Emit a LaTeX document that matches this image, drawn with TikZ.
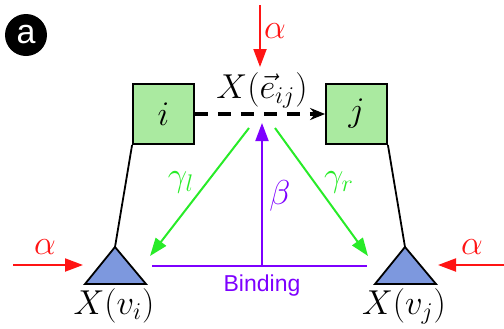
\documentclass[tikz,border=0pt]{standalone}
\usepackage{fontspec}
\usepackage{amsmath}
\newfontfamily\labfont{Liberation Sans}
\usetikzlibrary{arrows.meta}
\definecolor{boxgreen}{RGB}{170,234,160}
\definecolor{arrgreen}{RGB}{40,235,40}
\definecolor{purp}{RGB}{125,0,255}
\definecolor{trifill}{RGB}{125,152,222}
\definecolor{myred}{RGB}{255,20,20}
\tikzset{
  sq/.style={draw=black, line width=0.9pt, fill=boxgreen, minimum width=30.5pt, minimum height=30pt, inner sep=0pt, font=\fontsize{17.5}{20}\selectfont},
  lbl/.style={inner sep=0pt, font=\fontsize{17.5}{20}\selectfont},
  tipa/.style={-{Triangle[length=9pt,width=6.5pt]}},
  redarr/.style={draw=myred, line width=1pt, tipa},
  grnarr/.style={draw=arrgreen, line width=1pt, tipa},
  purarr/.style={draw=purp, line width=1pt, tipa},
  tri/.style={draw=black, line width=0.9pt, fill=trifill, line join=miter},
}
\begin{document}
\begin{tikzpicture}[x=0.5pt,y=-0.5pt]
\useasboundingbox (0,0) rectangle (504,328);
% panel label
\node[circle, fill=black, minimum size=21pt, inner sep=0pt, text=white, font=\labfont\fontsize{17}{18}\selectfont] (lab) at (26,35) {a};
% boxes
\node[sq] (i) at (163.5,114) {$i$};
\node[sq] (j) at (356.5,114) {$j$};
% edge label
\node[lbl] (eij) at (262,90) {$X(\vec{e}_{ij})$};
% top alpha
\coordinate (ta) at (260,5);
\coordinate (tb) at (260,67);
\draw[redarr] (ta) -- (tb);
\node[lbl, text=myred] (atop) at (275,31) {$\alpha$};
% dashed arrow
\draw[line width=1.6pt, dash pattern=on 6.5pt off 5pt, -{Stealth[length=7.5pt,width=6pt]}] (i.east) -- (j.west);
% triangles
\coordinate (vi) at (115,247);
\coordinate (vj) at (405,247);
\draw[tri] (vi) -- (146,284) -- (85,284) -- cycle;
\draw[tri] (vj) -- (436,284) -- (375,284) -- cycle;
% lines from boxes to triangles
\draw[line width=0.9pt] (i.south west) -- (vi);
\draw[line width=0.9pt] (j.south east) -- (vj);
% binding
\coordinate (bl) at (152,266);
\coordinate (br) at (367,266);
\coordinate (bm) at (262,266);
\coordinate (bt) at (262,123);
\draw[draw=purp, line width=1pt] (bl) -- (br);
\draw[purarr] (bm) -- (bt);
\node[inner sep=0pt, text=purp, font=\labfont\fontsize{11.5}{13}\selectfont] (bind) at (262,286) {Binding};
\node[lbl, text=purp] (beta) at (280,196) {$\beta$};
% green arrows
\coordinate (gl0) at (249,128);
\coordinate (gl1) at (150,256);
\coordinate (gr0) at (275,128);
\coordinate (gr1) at (368,256);
\draw[grnarr] (gl0) -- (gl1);
\draw[grnarr] (gr0) -- (gr1);
\node[lbl, text=arrgreen] (gl) at (181,182) {$\gamma_l$};
\node[lbl, text=arrgreen] (gr) at (339,182) {$\gamma_r$};
% side alphas
\coordinate (la) at (13,265);
\coordinate (lb) at (83,265);
\coordinate (ra) at (504,265);
\coordinate (rb) at (438,265);
\draw[redarr] (la) -- (lb);
\draw[redarr] (ra) -- (rb);
\node[lbl, text=myred] (al) at (45,247) {$\alpha$};
\node[lbl, text=myred] (ar) at (472,247) {$\alpha$};
% node labels
\node[lbl] (xvi) at (114,306) {$X(v_i)$};
\node[lbl] (xvj) at (404,306) {$X(v_j)$};
\end{tikzpicture}
\end{document}
